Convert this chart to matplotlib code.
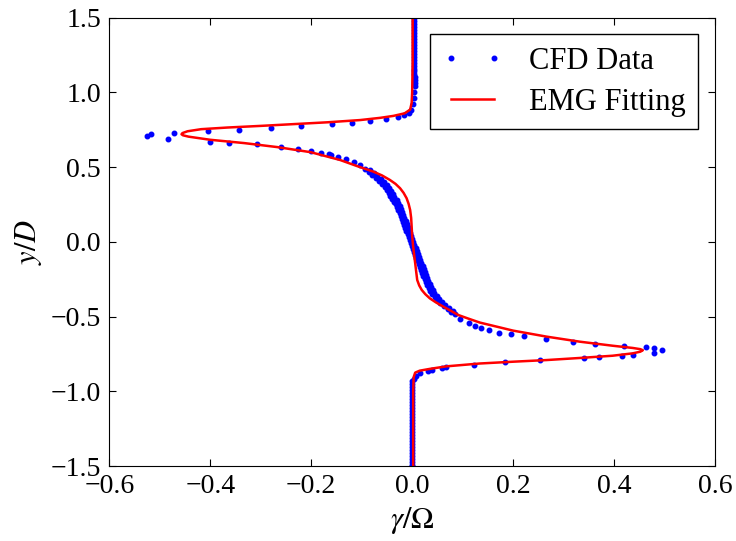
import matplotlib
matplotlib.use("Agg")
import matplotlib.pyplot as plt

plt.rcParams['font.family'] = ['Liberation Serif', 'DejaVu Serif']
plt.rcParams['mathtext.fontset'] = 'stix'

# CFD data (gamma/Omega, y/D), top to bottom
# upper tail
tail_up_x = [0.003, 0.003, 0.003, 0.003, 0.003, 0.003, 0.003, 0.003, 0.003, 0.003,
             0.003, 0.003, 0.003, 0.003, 0.003, 0.003, 0.003, 0.004, 0.004, 0.004,
             0.005, 0.005, 0.005, 0.005, 0.004, 0.003, 0.001, -0.003]
tail_up_y = [1.50, 1.48, 1.46, 1.44, 1.42, 1.40, 1.38, 1.36, 1.34, 1.32,
             1.30, 1.28, 1.26, 1.24, 1.22, 1.20, 1.18, 1.16, 1.14, 1.12,
             1.10, 1.08, 1.06, 1.04, 1.00, 0.96, 0.92, 0.883]
# upper peak
peak_up_x = [-0.007, -0.017, -0.029, -0.052, -0.083, -0.120, -0.159, -0.220, -0.280,
             -0.343, -0.405, -0.472, -0.517, -0.526, -0.483,
             -0.401, -0.363, -0.307, -0.259, -0.226, -0.201, -0.180, -0.165, -0.160,
             -0.147, -0.131, -0.116, -0.103]
peak_up_y = [0.864, 0.849, 0.838, 0.824, 0.811, 0.797, 0.786, 0.775, 0.764,
             0.751, 0.741, 0.731, 0.719, 0.708, 0.691,
             0.670, 0.663, 0.652, 0.636, 0.623, 0.609, 0.596, 0.587, 0.581,
             0.569, 0.552, 0.532, 0.513]
# dense core band
band_x = [-0.093, -0.083, -0.086, -0.076, -0.079, -0.069, -0.072, -0.062, -0.065, -0.056,
          -0.059, -0.050, -0.054, -0.046, -0.050, -0.042, -0.046, -0.038, -0.043, -0.035,
          -0.039, -0.031, -0.036, -0.028, -0.033, -0.025, -0.030, -0.023, -0.028, -0.020,
          -0.025, -0.018, -0.023, -0.016, -0.021, -0.013, -0.018, -0.011, -0.016, -0.009,
          -0.014, -0.007, -0.012, -0.004, -0.009, -0.002, -0.007, 0.000, -0.005, 0.002,
          -0.003, 0.004, -0.001, 0.007, 0.002, 0.009, 0.004, 0.011, 0.006, 0.013,
          0.008, 0.016, 0.011, 0.018, 0.013, 0.021, 0.016, 0.023, 0.018, 0.025,
          0.020, 0.027, 0.022, 0.030, 0.025, 0.032, 0.027, 0.035, 0.030, 0.038,
          0.033, 0.041, 0.036, 0.044, 0.040, 0.049, 0.045, 0.054, 0.050, 0.059,
          0.056, 0.066, 0.063, 0.073, 0.071, 0.080, 0.077]
band_y = [0.49, 0.48, 0.47, 0.46, 0.45, 0.44, 0.43, 0.42, 0.41, 0.40,
          0.39, 0.38, 0.37, 0.36, 0.35, 0.34, 0.33, 0.32, 0.31, 0.30,
          0.29, 0.28, 0.27, 0.26, 0.25, 0.24, 0.23, 0.22, 0.21, 0.20,
          0.19, 0.18, 0.17, 0.16, 0.15, 0.14, 0.13, 0.12, 0.11, 0.10,
          0.09, 0.08, 0.07, 0.06, 0.05, 0.04, 0.03, 0.02, 0.01, 0.00,
          -0.01, -0.02, -0.03, -0.04, -0.05, -0.06, -0.07, -0.08, -0.09, -0.10,
          -0.11, -0.12, -0.13, -0.14, -0.15, -0.16, -0.17, -0.18, -0.19, -0.20,
          -0.21, -0.22, -0.23, -0.24, -0.25, -0.26, -0.27, -0.28, -0.29, -0.30,
          -0.31, -0.32, -0.33, -0.34, -0.35, -0.36, -0.37, -0.38, -0.39, -0.40,
          -0.41, -0.42, -0.43, -0.44, -0.45, -0.46, -0.47]
# lower peak
peak_lo_x = [0.085, 0.095, 0.113, 0.124, 0.137, 0.152, 0.172, 0.195, 0.221, 0.266,
             0.318, 0.363, 0.420, 0.464, 0.480, 0.494, 0.480,
             0.437, 0.416, 0.370, 0.341, 0.253, 0.184, 0.122, 0.068, 0.059, 0.039,
             0.031, 0.016, 0.008, 0.003]
peak_lo_y = [-0.482, -0.516, -0.542, -0.560, -0.574, -0.587, -0.607, -0.619, -0.632, -0.652,
             -0.668, -0.683, -0.695, -0.706, -0.710, -0.727, -0.744,
             -0.758, -0.762, -0.769, -0.777, -0.791, -0.807, -0.825, -0.840, -0.847, -0.858,
             -0.862, -0.880, -0.896, -0.915]
# lower tail
tail_lo_x = [-0.001] * 30
tail_lo_y = [-0.93, -0.95, -0.97, -0.99, -1.01, -1.03, -1.05, -1.07, -1.09,
             -1.11, -1.13, -1.15, -1.17, -1.19, -1.21, -1.23, -1.25, -1.27,
             -1.29, -1.31, -1.33, -1.35, -1.37, -1.39, -1.41, -1.43, -1.45,
             -1.47, -1.49, -1.50]

cfd_x = tail_up_x + peak_up_x + band_x + peak_lo_x + tail_lo_x
cfd_y = tail_up_y + peak_up_y + band_y + peak_lo_y + tail_lo_y

# EMG fitting curve
emg_x = [0.001, 0.001, 0.000, -0.001, -0.004, -0.015, -0.037, -0.063, -0.103,
         -0.168, -0.234, -0.300, -0.366, -0.418, -0.445, -0.455, -0.457, -0.454,
         -0.443, -0.400, -0.333, -0.267, -0.201, -0.143, -0.110, -0.077, -0.060,
         -0.044, -0.033, -0.024, -0.017, -0.011, -0.007, -0.004, -0.002, -0.001,
         0.000, 0.002, 0.004, 0.006, 0.008, 0.010, 0.014, 0.019, 0.026, 0.035,
         0.047, 0.062, 0.076, 0.091, 0.110, 0.134, 0.200,
         0.266, 0.332, 0.397, 0.437, 0.452, 0.457, 0.452, 0.437, 0.397, 0.332,
         0.266, 0.200, 0.134, 0.068, 0.035, 0.015, 0.006, 0.003, 0.002, 0.002]
emg_y = [1.50, 1.20, 1.00, 0.93, 0.885, 0.860, 0.843, 0.830, 0.815,
         0.800, 0.788, 0.776, 0.765, 0.754, 0.740, 0.728, 0.720, 0.713,
         0.704, 0.683, 0.661, 0.634, 0.600, 0.548, 0.508, 0.470, 0.445,
         0.414, 0.388, 0.359, 0.328, 0.292, 0.254, 0.213, 0.160, 0.102,
         0.040, -0.032, -0.090, -0.143, -0.200, -0.255, -0.292, -0.322, -0.350, -0.378,
         -0.405, -0.434, -0.460, -0.489, -0.512, -0.540, -0.594,
         -0.634, -0.668, -0.695, -0.710, -0.718, -0.725, -0.735, -0.746, -0.762, -0.777,
         -0.791, -0.802, -0.814, -0.833, -0.850, -0.862, -0.875, -0.905, -1.00, -1.50]

fig = plt.figure(figsize=(7.36, 5.41), dpi=100)
ax = fig.add_axes([0.1485, 0.1386, 0.8230, 0.8287])

ax.plot(cfd_x, cfd_y, 'b.', markersize=6.5, label='CFD Data')
ax.plot(emg_x, emg_y, 'r-', linewidth=1.8, label='EMG Fitting')

ax.set_xlim(-0.6, 0.6)
ax.set_ylim(-1.5, 1.5)
ax.set_xticks([-0.6, -0.4, -0.2, 0.0, 0.2, 0.4, 0.6])
ax.set_yticks([-1.5, -1.0, -0.5, 0.0, 0.5, 1.0, 1.5])
ax.tick_params(direction='in', top=True, right=True, length=5, labelsize=20, pad=6)
ax.set_xlabel(r'$\gamma/\Omega$', fontsize=22, labelpad=4)
ax.set_ylabel(r'$y/D$', fontsize=22, labelpad=5)

leg = ax.legend(loc='upper right', numpoints=2, fontsize=22, fancybox=False,
                framealpha=1, edgecolor='black', handlelength=2.0,
                handletextpad=0.85, labelspacing=0.4, borderpad=0.4,
                borderaxespad=0.55)
leg.get_frame().set_linewidth(1.0)

fig.savefig('out.png', dpi=100)
